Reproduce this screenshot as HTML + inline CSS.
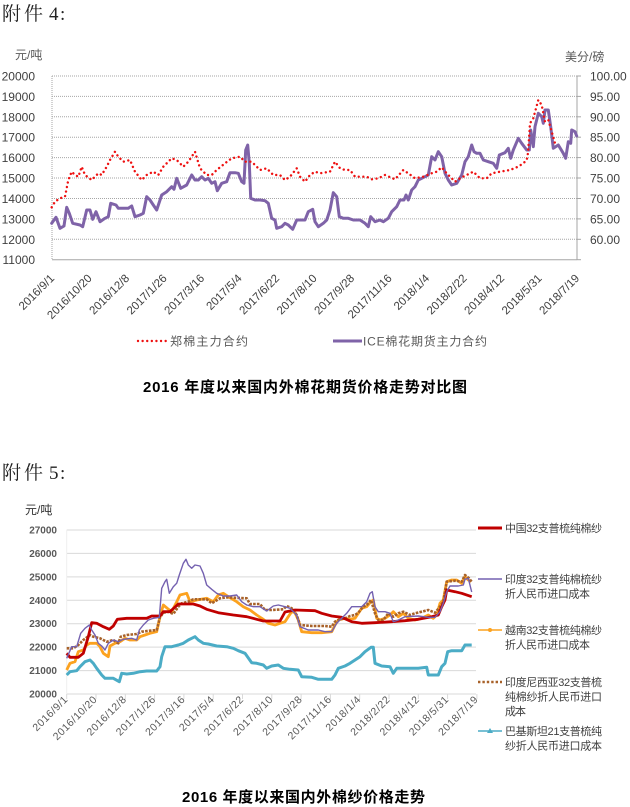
<!DOCTYPE html>
<html>
<head>
<meta charset="utf-8">
<style>
html,body{margin:0;padding:0;background:#fff;}
svg{display:block;}
text{font-family:"Liberation Sans","Noto Sans CJK SC",sans-serif;}
.ser{font-family:"Liberation Serif","Noto Serif CJK SC",serif;}
</style>
</head>
<body>
<svg width="630" height="807" viewBox="0 0 630 807" xmlns="http://www.w3.org/2000/svg">
<rect width="630" height="807" fill="#fff"/>

<!-- ===== 附件 4 ===== -->
<g class="ser" fill="#222" font-size="19">
<text x="2" y="20" class="ser">附</text>
<text x="24" y="20" class="ser">件</text>
<text x="49" y="20" class="ser">4</text>
<text x="60" y="20" class="ser">:</text>
</g>

<!-- chart 1 axis units -->
<text x="15" y="59" font-size="12" fill="#595959">元/吨</text>
<text x="565" y="61" font-size="12" fill="#595959">美分/磅</text>

<!-- chart 1 gridlines -->
<g stroke="#a6a6a6" stroke-width="1" stroke-dasharray="1 1">
<line x1="52" y1="76" x2="577" y2="76"/>
<line x1="52" y1="96.4" x2="577" y2="96.4"/>
<line x1="52" y1="116.8" x2="577" y2="116.8"/>
<line x1="52" y1="137.2" x2="577" y2="137.2"/>
<line x1="52" y1="157.6" x2="577" y2="157.6"/>
<line x1="52" y1="178" x2="577" y2="178"/>
<line x1="52" y1="198.5" x2="577" y2="198.5"/>
<line x1="52" y1="218.9" x2="577" y2="218.9"/>
<line x1="52" y1="239.3" x2="577" y2="239.3"/>
<line x1="52" y1="76" x2="52" y2="259.7"/>
</g>
<line x1="52" y1="259.7" x2="577" y2="259.7" stroke="#a6a6a6" stroke-width="1"/>
<line x1="577" y1="76" x2="577" y2="259.7" stroke="#a6a6a6" stroke-width="1"/>
<g stroke="#a6a6a6" stroke-width="1">
<line x1="577" y1="76" x2="581" y2="76"/>
<line x1="577" y1="96.4" x2="581" y2="96.4"/>
<line x1="577" y1="116.8" x2="581" y2="116.8"/>
<line x1="577" y1="137.2" x2="581" y2="137.2"/>
<line x1="577" y1="157.6" x2="581" y2="157.6"/>
<line x1="577" y1="178" x2="581" y2="178"/>
<line x1="577" y1="198.5" x2="581" y2="198.5"/>
<line x1="577" y1="218.9" x2="581" y2="218.9"/>
<line x1="577" y1="239.3" x2="581" y2="239.3"/>
<line x1="577" y1="259.7" x2="581" y2="259.7"/>
</g>

<!-- chart 1 left labels -->
<g font-size="12" fill="#404040" text-anchor="end">
<text x="35" y="80.5">20000</text>
<text x="35" y="100.9">19000</text>
<text x="35" y="121.3">18000</text>
<text x="35" y="141.7">17000</text>
<text x="35" y="162.1">16000</text>
<text x="35" y="182.5">15000</text>
<text x="35" y="203">14000</text>
<text x="35" y="223.4">13000</text>
<text x="35" y="243.8">12000</text>
<text x="35" y="264.2">11000</text>
</g>
<!-- chart 1 right labels -->
<g font-size="12" fill="#404040">
<text x="590" y="80.5">100.00</text>
<text x="590" y="100.9">95.00</text>
<text x="590" y="121.3">90.00</text>
<text x="590" y="141.7">85.00</text>
<text x="590" y="162.1">80.00</text>
<text x="590" y="182.5">75.00</text>
<text x="590" y="203">70.00</text>
<text x="590" y="223.4">65.00</text>
<text x="590" y="243.8">60.00</text>
</g>

<!-- chart 1 x labels -->
<g font-size="11.5" fill="#404040" text-anchor="end">
<text transform="translate(55,279) rotate(-45)">2016/9/1</text>
<text transform="translate(92.5,279) rotate(-45)">2016/10/20</text>
<text transform="translate(130,279) rotate(-45)">2016/12/8</text>
<text transform="translate(167.5,279) rotate(-45)">2017/1/26</text>
<text transform="translate(205,279) rotate(-45)">2017/3/16</text>
<text transform="translate(242.5,279) rotate(-45)">2017/5/4</text>
<text transform="translate(280,279) rotate(-45)">2017/6/22</text>
<text transform="translate(317.5,279) rotate(-45)">2017/8/10</text>
<text transform="translate(355,279) rotate(-45)">2017/9/28</text>
<text transform="translate(392.5,279) rotate(-45)">2017/11/16</text>
<text transform="translate(430,279) rotate(-45)">2018/1/4</text>
<text transform="translate(467.5,279) rotate(-45)">2018/2/22</text>
<text transform="translate(505,279) rotate(-45)">2018/4/12</text>
<text transform="translate(542.5,279) rotate(-45)">2018/5/31</text>
<text transform="translate(580,279) rotate(-45)">2018/7/19</text>
</g>

<!-- chart 1 series: ICE purple -->
<polyline fill="none" stroke="#7f63a8" stroke-width="3" stroke-linejoin="round" stroke-linecap="round" points="51.7,223.3 56,217.3 60,228.3 64,226 66.7,207.3 69.3,213.3 72.7,223.3 80,225 82.7,226.7 86.7,210 90,210 92.7,219.3 96,211.7 100,221.7 105,218.3 108.3,216.7 110.7,203.3 116,205 118.3,208.3 123.3,208.3 128.3,208.3 131.7,206 135,216.7 140,215 143.3,213.3 146.7,196.7 150,200 153.3,205 156.7,210 161.7,195 166.7,191.7 171.7,186.7 174,189.3 176.7,178.3 180.7,188.3 186.7,185 191.7,175 195,180 198.3,180 201.7,176.7 205,180 208.3,178.3 211.7,183.3 215,181.7 217.3,190.7 221.7,183.3 226.7,181.7 230,172.7 235,172.7 238.3,173.3 241.7,181.7 244,183.3 245.7,150 247.7,145 249.3,163.3 250.7,198.3 255,200 260,200 265,200.7 268.3,203.3 271.7,218.3 275,220 276.7,228.3 281.7,226.7 285,223.3 288.3,225 292.7,229.3 296.7,220 301.7,220 305,220 308.3,211.7 312.7,209.3 315,221.7 318.3,226.7 323.3,223.3 326.7,220 330,210 333.3,192.7 336.7,196.7 339.3,216.7 343.3,218.3 348.3,218.3 353.3,220 360,220 365,223.3 368.3,226.7 370.7,216.7 375,221.7 380,220 383.3,221.7 388.3,218.3 391.7,211.7 396.7,206.7 400,200 404,200 406,195 408.3,200 411.7,190 415,186.7 418.3,180 421.7,178.3 425,176.7 428.3,175 431.7,156.7 435,160 438.3,151.7 441.7,156.7 445,173.3 448.3,180 451.7,185 456.7,183.3 461.7,175 465,161.7 468.3,156.7 471.7,145 474,151.7 476.7,153.3 480,153.3 483.3,160 488.3,161.7 493.3,163.3 496.7,168.3 499.3,155 505,152.7 508.3,148.3 510.7,158.3 513.3,150 518.3,138.3 521.7,143.3 526.7,150 529.3,150 530.7,130 533.3,146.7 535,126.7 538.3,113.3 541.7,116.7 543.3,123.3 545,110 548.3,110 550.7,126.7 553.3,148.3 558.3,145 563.3,153.3 565.7,158.3 568.3,141.7 570.7,143.3 571.7,130 575,131.7 576.7,136"/>

<!-- chart 1 series: Zhengzhou red dotted -->
<polyline fill="none" stroke="#ee1111" stroke-width="2.4" stroke-dasharray="0.01 4.6" stroke-linecap="round" stroke-linejoin="round" points="51.7,207.3 55,201.7 60,198.3 65,196.7 68.3,180 71.7,171.7 75,175 78.3,176.7 81.7,166.7 85,175 91.7,180 98.3,173.3 101.7,175 106.7,166.7 110,160 115,151.7 118.3,156.7 123.3,161.7 130,160 135,171.7 141.7,180 146.7,175 153.3,171.7 158.3,175 163.3,166.7 171.7,158.3 176.7,160 183.3,166.7 188.3,161.7 195,151.7 200,168.3 206.7,175 211.7,175 216.7,170 225,163.3 231.7,158.3 240,156.7 245,161.7 251.7,161.7 260,170 266.7,168.3 273.3,175 280,175 285,180 290,176.7 296.7,168.3 300,176.7 305,181.7 310,175 315,171.7 320,173.3 330,171.7 335,161.7 340,168.3 345,170 350,170 355,176.7 366.7,176.7 371.7,179.3 378.3,178.3 385,175 395,179.3 403.3,170 408.3,173.3 415,178.3 423.3,176.7 431.7,173.3 436.7,171.7 441.7,167.3 446.7,173.3 451.7,178.3 455,181.7 460,178.3 466.7,175 473.3,171.7 480,178.3 486.7,178.3 491.7,173.3 500,171.7 510,170 518,166.7 523.3,163.3 526.7,160 528,153 530,123.3 533.3,118.3 538.3,100 541.7,105 545,121.7 548.3,120 551.7,131.7 555,143.3"/>

<!-- chart 1 legend -->
<line x1="138" y1="341" x2="166" y2="341" stroke="#ee1111" stroke-width="2.4" stroke-dasharray="0.01 4.6" stroke-linecap="round"/>
<text x="170" y="345.5" font-size="12" fill="#595959" textLength="78" lengthAdjust="spacing">郑棉主力合约</text>
<line x1="333" y1="341" x2="362" y2="341" stroke="#7f63a8" stroke-width="3"/>
<text x="363" y="345.5" font-size="12" fill="#595959" textLength="124" lengthAdjust="spacing">ICE棉花期货主力合约</text>

<!-- chart 1 title -->
<text x="143" y="392" font-size="15" font-weight="bold" fill="#000" textLength="324" lengthAdjust="spacing">2016 年度以来国内外棉花期货价格走势对比图</text>

<!-- ===== 附件 5 ===== -->
<g fill="#222" font-size="19">
<text x="2" y="479" class="ser">附</text>
<text x="24" y="479" class="ser">件</text>
<text x="49" y="479" class="ser">5</text>
<text x="60" y="479" class="ser">:</text>
</g>

<text x="25" y="514" font-size="12" fill="#333">元/吨</text>

<!-- chart 2 gridlines -->
<g stroke="#d9d9d9" stroke-width="1">
<line x1="66.7" y1="530" x2="476" y2="530"/>
<line x1="66.7" y1="553.4" x2="476" y2="553.4"/>
<line x1="66.7" y1="576.9" x2="476" y2="576.9"/>
<line x1="66.7" y1="600.3" x2="476" y2="600.3"/>
<line x1="66.7" y1="623.7" x2="476" y2="623.7"/>
<line x1="66.7" y1="647.1" x2="476" y2="647.1"/>
<line x1="66.7" y1="670.6" x2="476" y2="670.6"/>
<line x1="66.7" y1="694" x2="476" y2="694"/>
<line x1="66.7" y1="530" x2="66.7" y2="694" stroke="#eeeeee"/>
</g>
<g stroke="#d9d9d9" stroke-width="1">
<line x1="66.7" y1="694" x2="66.7" y2="699"/>
<line x1="96" y1="694" x2="96" y2="699"/>
<line x1="125.3" y1="694" x2="125.3" y2="699"/>
<line x1="154.6" y1="694" x2="154.6" y2="699"/>
<line x1="183.9" y1="694" x2="183.9" y2="699"/>
<line x1="213.2" y1="694" x2="213.2" y2="699"/>
<line x1="242.5" y1="694" x2="242.5" y2="699"/>
<line x1="271.8" y1="694" x2="271.8" y2="699"/>
<line x1="301.1" y1="694" x2="301.1" y2="699"/>
<line x1="330.4" y1="694" x2="330.4" y2="699"/>
<line x1="359.7" y1="694" x2="359.7" y2="699"/>
<line x1="389" y1="694" x2="389" y2="699"/>
<line x1="418.3" y1="694" x2="418.3" y2="699"/>
<line x1="447.6" y1="694" x2="447.6" y2="699"/>
<line x1="476.9" y1="694" x2="476.9" y2="699"/>
</g>

<!-- chart 2 y labels -->
<g font-size="10" font-weight="bold" fill="#595959" text-anchor="end">
<text x="57" y="533.5">27000</text>
<text x="57" y="556.9">26000</text>
<text x="57" y="580.4">25000</text>
<text x="57" y="603.8">24000</text>
<text x="57" y="627.2">23000</text>
<text x="57" y="650.6">22000</text>
<text x="57" y="674.1">21000</text>
<text x="57" y="697.5">20000</text>
</g>

<!-- chart 2 x labels -->
<g font-size="10.5" fill="#595959" text-anchor="end" letter-spacing="0.5">
<text transform="translate(68.5,700) rotate(-45)">2016/9/1</text>
<text transform="translate(97.8,700) rotate(-45)">2016/10/20</text>
<text transform="translate(127.1,700) rotate(-45)">2016/12/8</text>
<text transform="translate(156.4,700) rotate(-45)">2017/1/26</text>
<text transform="translate(185.7,700) rotate(-45)">2017/3/16</text>
<text transform="translate(215,700) rotate(-45)">2017/5/4</text>
<text transform="translate(244.3,700) rotate(-45)">2017/6/22</text>
<text transform="translate(273.6,700) rotate(-45)">2017/8/10</text>
<text transform="translate(302.9,700) rotate(-45)">2017/9/28</text>
<text transform="translate(332.2,700) rotate(-45)">2017/11/16</text>
<text transform="translate(361.5,700) rotate(-45)">2018/1/4</text>
<text transform="translate(390.8,700) rotate(-45)">2018/2/22</text>
<text transform="translate(420.1,700) rotate(-45)">2018/4/12</text>
<text transform="translate(449.4,700) rotate(-45)">2018/5/31</text>
<text transform="translate(478.7,700) rotate(-45)">2018/7/19</text>
</g>

<!-- chart 2 series -->
<!-- teal Pakistan -->
<polyline fill="none" stroke="#4bacc6" stroke-width="3" stroke-linejoin="round" points="66.7,675 70,671.7 76.7,670.7 80,666.7 85,661.7 90,660 93.3,663.3 96.7,668.3 101.7,675 105,678.3 113.3,678.3 119.3,681.7 121.7,673.3 126.7,674 133.3,673.3 140,671.7 146.7,671 156.7,671 160,666.7 161.7,656.7 165,646.7 171.7,646.7 178.3,645 183.3,643.3 188.3,640 191.7,638.3 195,636.7 198.3,640 203.3,643.3 208.3,644 216.7,646 226.7,646.7 233.3,648.3 238.3,650.7 245,653.3 251.7,662.7 256.7,663.3 263.3,665 266.7,668.3 271.7,666 278.3,665 283.3,668.3 290,669.3 298.3,670 301.7,676.7 311.7,677.3 318.3,679.3 331.7,679.3 335,675 338.3,668.3 345,666 350,663.3 355,660 360,656.7 365,651.7 371,647.3 373.3,647.3 375,663.3 381.7,666 390,666.7 393.3,673.3 396.7,668.3 408.3,668.3 418.3,668.3 426.7,667.3 428.3,675 438.3,675 441.7,666.7 445,663.3 447.7,651.7 451.7,650.7 461.7,650.7 465,645 471.7,645"/>
<!-- orange Vietnam -->
<polyline fill="none" stroke="#fca21f" stroke-width="2.8" stroke-linejoin="round" points="66.7,670 70,663.3 75,661.7 78.3,651.7 83.3,650 86.7,645 90,643.3 96.7,643.3 100,646.7 103.3,653.3 108.3,656.7 110,646 115,643.3 120,641.7 125,638.3 130,640 136.7,640 140,636.7 145,635 150,633.3 156.7,631.7 160,616.7 163.3,605 167.3,608.3 171.7,611.7 176,603.3 180,595 186.7,593.3 190,601.7 196.7,600 206.7,598.3 213.3,601.7 218.3,595 223.3,593.3 228.3,596.7 236.7,601.7 243.3,606.7 250,610 256.7,615 263.3,619.3 268.3,623.3 275,625 280,623.3 285,621.7 288.3,616.7 291.7,611.7 295,612.7 298.3,620 301.7,631.7 311.7,632.7 321.7,632.7 331.7,631.7 335,625 338.3,620 345,618.3 350,619.3 355,618.3 358.3,613.3 361.7,608.3 366.7,606.7 370,602.7 373.3,600 376.7,618.3 380,620 385,618.3 390,615 393.3,611.7 398.3,616.7 403.3,613.3 408.3,618.3 415,620 421.7,618.3 428.3,615 433.3,618.3 436.7,615 440,603.3 443.3,600 446.7,581.7 451.7,580 456.7,580 461.7,583.3 465,576.7 468.3,580 471,581.7"/>
<!-- brown Indonesia -->
<polyline fill="none" stroke="#a8622a" stroke-width="2.6" stroke-dasharray="2.6 1.2" stroke-linejoin="round" points="66.7,648.3 73.3,648.3 78.3,645 83.3,640 90,635 93.3,636.7 100,638.3 106.7,641.7 113.3,640 118.3,643.3 120.7,636.7 126.7,635 136.7,634 141.7,631.7 150,630.7 156.7,630 160,617.3 163.3,612.7 168.3,611.7 173.3,614 178.3,606.7 181.7,603.3 188.3,601.7 193.3,599.3 206.7,599.3 211.7,603.3 220,598.3 226.7,597.3 246.7,598.3 250,604 260,604 265,610 271.7,610 283.3,609.3 286.7,606 291.7,608.3 296.7,615 300,625 311.7,626 325,626 331.7,626.7 335,621.7 340,619.3 345,618.3 350,616 355,615 358.3,612.7 363.3,606.7 366.7,605 371,600 375,613.3 378.3,620 383.3,620 388.3,613.3 393.3,616.7 398.3,613.3 403.3,611.7 410,615 415,613.3 421.7,611.7 428.3,610 435,612.7 440,606.7 443.3,601.7 446.7,581.7 455,580.7 461.7,581.7 465,575 469,578.3 471.7,581.7"/>
<!-- red China -->
<polyline fill="none" stroke="#c00000" stroke-width="2.8" stroke-linejoin="round" points="66.7,653.3 70,657.3 78.3,657.3 83.3,653.3 88.3,636.7 91.7,622.7 96.7,623.3 103.3,626.7 109.3,629.3 113.3,626 117.3,619.3 126.7,618.3 140,618.3 146.7,618.3 151.7,616 160,616 163.3,611.7 170,611.7 178.3,604 193.3,604 200,606 206.7,609.3 218.3,612.7 233.3,615 246.7,616.7 256.7,619.3 263.3,621 273.3,621 280,621 285,612 295,610 315,610.7 321.7,613.3 331.7,616 341.7,617.3 351.7,621.7 361.7,623.3 375,622.7 391.7,621.7 405,620.7 418.3,619.3 431.7,616.7 438.3,615 441.7,606.7 445,600 446.7,590 455,591.7 461.7,593.3 471.7,596.7"/>
<!-- purple India -->
<polyline fill="none" stroke="#7461b0" stroke-width="1.4" stroke-linejoin="round" points="66.7,658.3 71.7,646.7 76.7,646.7 80.7,633.3 85,628.3 89.3,625 91.7,630 95,635 98.3,643.3 101.7,646 105,650 108.3,643.3 113.3,640 118.3,641.7 123.3,639.3 131.7,638.3 136.7,640 139.3,630 143.3,625 148.3,620 153.3,618.3 159.3,617.3 161.7,588.3 165,581.7 166.7,579.3 169.3,593.3 173.3,586.7 176.7,583.3 179.3,575 183.3,563.3 186,559.3 188.3,565 191.7,568.3 195,565 200,566 203.3,573.3 206.7,585 211.7,589.3 216.7,593.3 223.3,596 230,596 236.7,595 241.7,601.7 246.7,605 253.3,606.7 260,606.7 266.7,611 273.3,606 278.3,605 285,606.7 290,608.3 296.7,615 300,626.7 308.3,630 318.3,630 325,631.7 331.7,631.7 336.7,623.3 341.7,618.3 346.7,613.3 351.7,606.7 361.7,606.7 366.7,601.7 370,593.3 372.3,591.7 375,606.7 378.3,611.7 385,611.7 390,613.3 393.3,621.7 398.3,620 405,616.7 418.3,616 428.3,617.3 435,617.3 440,611.7 443.3,603.3 446.7,591.7 450,586 458.3,586 463.3,585 465,579.3 468.3,578.3 471.7,592"/>

<!-- chart 2 legend -->
<line x1="478" y1="528" x2="502" y2="528" stroke="#c00000" stroke-width="3"/>
<line x1="478" y1="579" x2="502" y2="579" stroke="#7461b0" stroke-width="1.4"/>
<line x1="478" y1="630" x2="502" y2="630" stroke="#fca21f" stroke-width="1.6"/>
<circle cx="490" cy="630" r="2" fill="#fca21f"/>
<line x1="478" y1="682" x2="502" y2="682" stroke="#a8622a" stroke-width="2.4" stroke-dasharray="2.4 2"/>
<line x1="478" y1="731" x2="502" y2="731" stroke="#4bacc6" stroke-width="1.6"/>
<polygon points="490,728 493,733 487,733" fill="#4bacc6"/>

<g font-size="11" fill="#404040">
<text x="505" y="532" textLength="97" lengthAdjust="spacing">中国32支普梳纯棉纱</text>
<text x="505" y="583" textLength="97" lengthAdjust="spacing">印度32支普纯棉梳纱</text>
<text x="505" y="597.5" textLength="85" lengthAdjust="spacing">折人民币进口成本</text>
<text x="505" y="634" textLength="97" lengthAdjust="spacing">越南32支普梳纯棉纱</text>
<text x="505" y="648.5" textLength="85" lengthAdjust="spacing">折人民币进口成本</text>
<text x="505" y="686" textLength="97" lengthAdjust="spacing">印度尼西亚32支普梳</text>
<text x="505" y="700.5" textLength="97" lengthAdjust="spacing">纯棉纱折人民币进口</text>
<text x="505" y="715" textLength="21" lengthAdjust="spacing">成本</text>
<text x="505" y="735" textLength="97" lengthAdjust="spacing">巴基斯坦21支普梳纯</text>
<text x="505" y="749.5" textLength="97" lengthAdjust="spacing">纱折人民币进口成本</text>
</g>

<!-- chart 2 title -->
<text x="182" y="802" font-size="15" font-weight="bold" fill="#000" textLength="243" lengthAdjust="spacing">2016 年度以来国内外棉纱价格走势</text>
</svg>
</body>
</html>
